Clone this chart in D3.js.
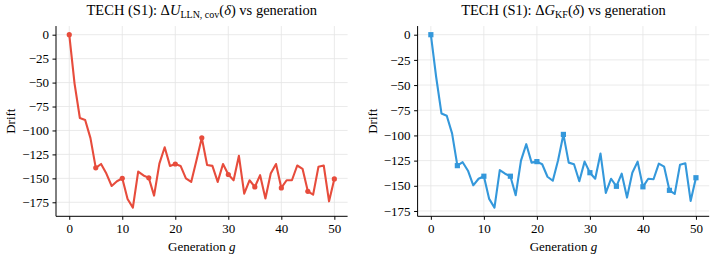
<!DOCTYPE html>
<html><head><meta charset="utf-8">
<script src="https://cdn.jsdelivr.net/npm/d3@7/dist/d3.min.js"></script>
<style>
body{margin:0;background:#fff;}
text{font-family:"Liberation Serif","Times New Roman",serif;fill:#000;}
</style></head>
<body><svg id="c" width="714" height="261"></svg>
<script>
const generations = d3.range(0, 51);
const driftU = [0,-51,-87,-89,-108,-139,-135,-145,-158,-153,-150,-171.5,-180.6,-143,-147,-149.5,-168,-134.6,-117.5,-137,-135,-137,-150,-153.7,-131,-107.7,-136,-137,-153.7,-135,-146,-152,-126.5,-166,-152,-159,-146.7,-171,-145,-135,-160,-152,-152,-136.6,-140,-163.5,-167,-138,-136.6,-174,-150.6];
const driftG = [0,-42,-78.2,-80.5,-98,-130,-126.6,-135,-149.5,-143,-140.5,-163,-171.7,-134.5,-138,-140.5,-159.4,-125,-108.7,-127,-126,-128.6,-141,-145,-124.6,-99,-127,-128.6,-145.5,-126,-137,-143,-118,-157,-143,-150.5,-138,-161.7,-137,-126,-151,-143,-143.5,-128,-131,-154.5,-158,-129,-127.6,-165,-142];
const xTicks = [0,10,20,30,40,50];
const yTicks = [0,-25,-50,-75,-100,-125,-150,-175];
const markerEvery = 5;

const svg = d3.select("#c");

function panel(opt){
  const g = svg.append("g");
  const x0 = opt.left, x1 = opt.right, y0 = 26.05, y1 = 216.3;
  const xs = d3.scaleLinear().domain([-2.5, 52.5]).range([x0, x1]);
  const mn = d3.min(opt.data), mx = d3.max(opt.data);
  const pad = (mx - mn) * 0.05;
  const ys = d3.scaleLinear().domain([mn - pad, mx + pad]).range([y1, y0]);

  // grid
  g.append("g").selectAll("line").data(xTicks).join("line")
    .attr("x1", d=>xs(d)).attr("x2", d=>xs(d)).attr("y1", y0).attr("y2", y1)
    .attr("stroke", "#e4e4e4").attr("stroke-width", 0.8);
  g.append("g").selectAll("line").data(yTicks).join("line")
    .attr("y1", d=>ys(d)).attr("y2", d=>ys(d)).attr("x1", x0).attr("x2", x1)
    .attr("stroke", "#e4e4e4").attr("stroke-width", 0.8);

  // axes
  const xa = d3.axisBottom(xs).tickValues(xTicks).tickSize(3.5).tickPadding(3.5).tickFormat(d3.format("d"));
  const ya = d3.axisLeft(ys).tickValues(yTicks).tickSize(3.5).tickPadding(3.5).tickFormat(d => d < 0 ? "\u2212" + Math.abs(d) : d);
  const gx = g.append("g").attr("transform", `translate(0,${y1})`).call(xa);
  const gy = g.append("g").attr("transform", `translate(${x0},0)`).call(ya);
  [gx, gy].forEach(a => {
    a.attr("font-family", null).attr("font-size", null);
    a.select(".domain").attr("stroke", "#000").attr("stroke-width", 1);
    a.selectAll(".tick line").attr("stroke", "#000").attr("stroke-width", 1);
    a.selectAll(".tick text").style("font-family", '"Liberation Serif",serif').style("font-size", "13px").attr("fill", "#000");
  });
  gx.select(".domain").attr("d", `M${x0},0H${x1}`);
  gy.select(".domain").attr("d", `M0,${y1}V${y0}`);

  // line
  const line = d3.line().x((d,i)=>xs(generations[i])).y(d=>ys(d));
  g.append("path").datum(opt.data).attr("d", line).attr("fill", "none")
    .attr("stroke", opt.color).attr("stroke-width", 2.1).attr("stroke-linejoin", "round");
  const mk = opt.data.map((d,i)=>({g:generations[i], v:d})).filter(d => d.g % markerEvery === 0);
  if (opt.square) {
    g.append("g").selectAll("rect").data(mk).join("rect")
      .attr("x", d=>xs(d.g)-2.6).attr("y", d=>ys(d.v)-2.6).attr("width", 5.2).attr("height", 5.2)
      .attr("fill", opt.color);
  } else {
    g.append("g").selectAll("circle").data(mk).join("circle")
      .attr("cx", d=>xs(d.g)).attr("cy", d=>ys(d.v)).attr("r", 2.6).attr("fill", opt.color);
  }

  // labels
  const cx = (x0 + x1) / 2;
  const t = g.append("text").attr("x", cx).attr("y", 15).attr("text-anchor", "middle").style("font-size", "14.5px");
  opt.title(t);
  const xl = g.append("text").attr("x", cx).attr("y", 250.5).attr("text-anchor", "middle").style("font-size", "13px");
  xl.append("tspan").text("Generation ");
  xl.append("tspan").attr("font-style", "italic").text("g");
  g.append("text").attr("transform", `translate(${opt.ylabX},${(y0+y1)/2}) rotate(-90)`)
    .attr("text-anchor", "middle").style("font-size", "13px").text("Drift");
}

panel({left:56, right:347.6, data:driftU, color:"#e74c3c", square:false, ylabX:15,
  title: t => {
    t.append("tspan").text("TECH (S1): \u0394");
    t.append("tspan").attr("font-style","italic").text("U");
    t.append("tspan").attr("dy", 3).style("font-size","10px").text("LLN, cov");
    t.append("tspan").attr("dy", -3).text("(");
    t.append("tspan").attr("font-style","italic").text("\u03b4");
    t.append("tspan").text(") vs generation");
  }});
panel({left:417.6, right:709.2, data:driftG, color:"#3498db", square:true, ylabX:377,
  title: t => {
    t.append("tspan").text("TECH (S1): \u0394");
    t.append("tspan").attr("font-style","italic").text("G");
    t.append("tspan").attr("dy", 3).style("font-size","10px").text("KF");
    t.append("tspan").attr("dy", -3).text("(");
    t.append("tspan").attr("font-style","italic").text("\u03b4");
    t.append("tspan").text(") vs generation");
  }});
</script></body></html>
